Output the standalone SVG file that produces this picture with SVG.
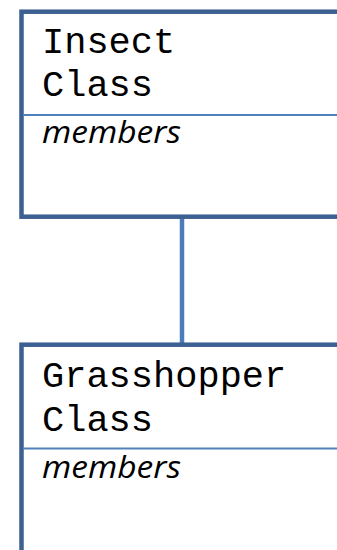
<svg xmlns="http://www.w3.org/2000/svg" width="337" height="550" viewBox="0 0 337 550">
<style>
.box{fill:#ffffff;stroke:#3c6091;stroke-width:4.5}
.div{stroke:#4f81bd;stroke-width:2}
.name{font-family:"Liberation Mono","Courier New",monospace;font-size:37px;fill:#000}
.mem{font-family:"Open Sans","Liberation Sans",sans-serif;font-style:italic;font-size:31px;fill:#000}
.conn{stroke:#4a7dba;stroke-width:4.5;fill:none}
</style>
<rect width="337" height="550" fill="#ffffff"/>
<g id="connectors">
<line class="conn" x1="182" y1="218" x2="182" y2="343"/>
</g>
<g id="insect">
<rect class="box" x="21.5" y="11.7" width="340" height="205"/>
<line class="div" x1="23" y1="115" x2="337" y2="115"/>
<text class="name" x="42" y="52.7">Insect</text>
<text class="name" x="42" y="95.7">Class</text>
<text class="mem" x="42" y="143.3" textLength="139" lengthAdjust="spacingAndGlyphs">members</text>
</g>
<g id="grasshopper">
<rect class="box" x="21.5" y="344.7" width="340" height="240"/>
<line class="div" x1="23" y1="448.5" x2="337" y2="448.5"/>
<text class="name" x="42" y="386.7">Grasshopper</text>
<text class="name" x="42" y="430.5">Class</text>
<text class="mem" x="42" y="477.5" textLength="139" lengthAdjust="spacingAndGlyphs">members</text>
</g>
</svg>
